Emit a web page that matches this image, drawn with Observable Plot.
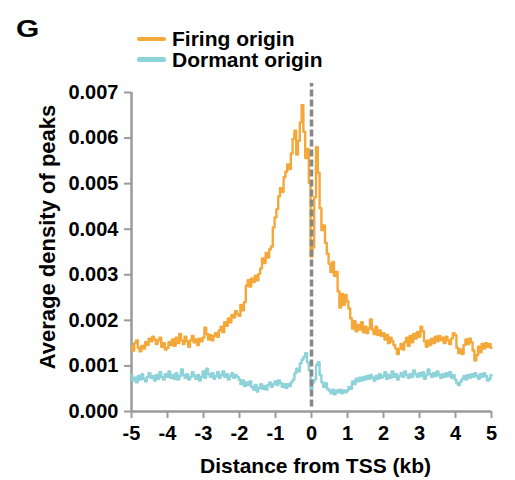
<!DOCTYPE html>
<html>
<head>
<meta charset="utf-8">
<script src="https://cdn.jsdelivr.net/npm/d3@7"></script>
<script src="https://cdn.jsdelivr.net/npm/@observablehq/plot@0.6"></script>
<style>
  html, body { margin: 0; padding: 0; background: #fff; }
  body { width: 515px; height: 480px; overflow: hidden; font-family: "Liberation Sans", Arial, Helvetica, sans-serif; font-weight: bold; color: #000; }
  #page { position: relative; width: 515px; height: 480px; }
  #head { position: relative; width: 515px; height: 80px; }
  .panel { position: absolute; left: 16px; top: 17.5px; font-size: 23px; line-height: 23px; transform: scaleX(1.3); transform-origin: 0 0; }
  .sw { position: absolute; left: 137px; width: 29px; height: 4.5px; border-radius: 2px; }
  .lab { position: absolute; left: 172px; font-size: 21px; line-height: 21px; white-space: nowrap; }
  #ylab { position: absolute; left: 48px; top: 237px; font-size: 22px; line-height: 22px; white-space: nowrap; transform: translate(-50%, -50%) rotate(-90deg); }
</style>
</head>
<body>
<div id="page">
<div id="head">
  <div class="panel">G</div>
  <div class="sw" id="sw0" style="top:36.5px"></div>
  <div class="lab" id="lab0" style="top:28px"></div>
  <div class="sw" id="sw1" style="top:57px"></div>
  <div class="lab" id="lab1" style="top:49px"></div>
</div>
<div id="chart"></div>
<div id="ylab"></div>
</div>
<script>
const seriesNames = ["Firing origin", "Dormant origin"];
const seriesColors = ["#F5A83A", "#8ED2DA"];
const xTicks = [-5, -4, -3, -2, -1, 0, 1, 2, 3, 4, 5];
const yTicks = [0, 0.001, 0.002, 0.003, 0.004, 0.005, 0.006, 0.007];
const xLabel = "Distance from TSS (kb)";
const yLabel = "Average density of peaks";

// bins every 0.05 kb from -5 to 5 kb
const distanceKb = d3.range(201).map(i => Math.round((-5 + i * 0.05) * 100) / 100);

const firing = [
0.00142,0.00134,0.00150,0.00156,0.00140,0.00132,0.00144,0.00138,0.00152,0.00146,0.00160,0.00154,0.00164,0.00158,0.00148,0.00156,0.00162,0.00142,0.00150,0.00136,
0.00140,0.00152,0.00146,0.00158,0.00144,0.00162,0.00150,0.00170,0.00156,0.00148,0.00164,0.00154,0.00142,0.00156,0.00166,0.00152,0.00158,0.00146,0.00160,0.00154,
0.00162,0.00184,0.00170,0.00158,0.00168,0.00156,0.00166,0.00172,0.00164,0.00178,0.00186,0.00174,0.00196,0.00188,0.00204,0.00196,0.00212,0.00206,0.00220,0.00214,
0.00210,0.00234,0.00222,0.00240,0.00276,0.00288,0.00274,0.00292,0.00284,0.00298,0.00288,0.00302,0.00314,0.00336,0.00326,0.00348,0.00338,0.00356,0.00362,0.00404,
0.00426,0.00444,0.00472,0.00490,0.00482,0.00514,0.00526,0.00542,0.00532,0.00566,0.00598,0.00616,0.00564,0.00594,0.00634,0.00672,0.00614,0.00556,0.00576,0.00502,
0.00340,0.00360,0.00470,0.00580,0.00524,0.00446,0.00398,0.00408,0.00370,0.00346,0.00324,0.00306,0.00328,0.00298,0.00306,0.00264,0.00228,0.00258,0.00234,0.00256,
0.00242,0.00226,0.00204,0.00182,0.00198,0.00176,0.00190,0.00180,0.00196,0.00174,0.00186,0.00172,0.00182,0.00202,0.00180,0.00170,0.00186,0.00168,0.00178,0.00166,
0.00172,0.00158,0.00168,0.00150,0.00162,0.00154,0.00146,0.00138,0.00126,0.00138,0.00148,0.00136,0.00152,0.00162,0.00144,0.00166,0.00152,0.00170,0.00160,0.00174,
0.00164,0.00186,0.00176,0.00154,0.00142,0.00156,0.00146,0.00160,0.00150,0.00164,0.00154,0.00166,0.00156,0.00162,0.00150,0.00164,0.00156,0.00148,0.00160,0.00172,
0.00168,0.00140,0.00128,0.00136,0.00126,0.00146,0.00158,0.00148,0.00160,0.00152,0.00134,0.00112,0.00124,0.00142,0.00130,0.00148,0.00138,0.00150,0.00142,0.00148,0.00140
];

const dormant = [
0.00080,0.00068,0.00074,0.00064,0.00078,0.00070,0.00082,0.00072,0.00066,0.00076,0.00084,0.00074,0.00078,0.00068,0.00080,0.00072,0.00086,0.00076,0.00070,0.00082,
0.00076,0.00088,0.00074,0.00080,0.00072,0.00084,0.00070,0.00078,0.00092,0.00080,0.00074,0.00082,0.00070,0.00076,0.00086,0.00078,0.00072,0.00080,0.00068,0.00076,
0.00088,0.00074,0.00094,0.00082,0.00076,0.00084,0.00072,0.00078,0.00086,0.00074,0.00080,0.00088,0.00076,0.00082,0.00070,0.00078,0.00084,0.00074,0.00080,0.00076,
0.00070,0.00060,0.00068,0.00056,0.00064,0.00058,0.00066,0.00054,0.00048,0.00058,0.00044,0.00052,0.00060,0.00050,0.00056,0.00048,0.00058,0.00064,0.00054,0.00060,
0.00066,0.00058,0.00068,0.00062,0.00054,0.00060,0.00052,0.00060,0.00056,0.00064,0.00070,0.00084,0.00094,0.00088,0.00106,0.00114,0.00120,0.00128,0.00108,0.00090,
0.00050,0.00064,0.00070,0.00102,0.00108,0.00080,0.00064,0.00054,0.00062,0.00050,0.00046,0.00040,0.00048,0.00038,0.00046,0.00042,0.00048,0.00040,0.00046,0.00042,
0.00046,0.00054,0.00050,0.00066,0.00060,0.00072,0.00066,0.00074,0.00068,0.00076,0.00070,0.00078,0.00072,0.00080,0.00074,0.00068,0.00078,0.00072,0.00082,0.00074,
0.00078,0.00086,0.00072,0.00080,0.00074,0.00088,0.00076,0.00082,0.00070,0.00078,0.00084,0.00076,0.00088,0.00080,0.00074,0.00082,0.00076,0.00090,0.00082,0.00076,
0.00084,0.00078,0.00086,0.00072,0.00080,0.00092,0.00082,0.00076,0.00084,0.00078,0.00088,0.00080,0.00074,0.00082,0.00076,0.00084,0.00078,0.00086,0.00074,0.00080,
0.00070,0.00062,0.00058,0.00066,0.00072,0.00078,0.00070,0.00080,0.00074,0.00082,0.00076,0.00084,0.00078,0.00072,0.00082,0.00076,0.00084,0.00078,0.00068,0.00072,0.00080
];

// legend and y title
document.getElementById("sw0").style.background = seriesColors[0];
document.getElementById("sw1").style.background = seriesColors[1];
document.getElementById("lab0").textContent = seriesNames[0];
document.getElementById("lab1").textContent = seriesNames[1];
document.getElementById("ylab").textContent = yLabel;

const firingData = distanceKb.map((x, i) => ({x, y: firing[i]}));
const dormantData = distanceKb.map((x, i) => ({x, y: dormant[i]}));

const axisGrey = "#9a9a9a";

const chart = Plot.plot({
  width: 515,
  height: 400,
  marginTop: 12,
  marginLeft: 131,
  marginRight: 24,
  marginBottom: 69,
  x: {domain: [-5, 5]},
  y: {domain: [0, 0.007]},
  style: {fontFamily: '"Liberation Sans", Arial, Helvetica, sans-serif', fontSize: "20px", fontWeight: "bold", color: "#000", background: "#fff", overflow: "visible"},
  marks: [
    Plot.axisY({ticks: yTicks, tickSize: 7, tickPadding: 6, tickFormat: d3.format(".3f"), label: null, stroke: axisGrey, strokeWidth: 2, fill: "#000"}),
    Plot.axisX({ticks: xTicks, tickSize: 7, tickPadding: 7, tickFormat: d => `${d}`, label: null, stroke: axisGrey, strokeWidth: 2, fill: "#000"}),
    Plot.ruleX([xTicks[0]], {y1: yTicks[0], y2: yTicks[yTicks.length - 1], stroke: axisGrey, strokeWidth: 2.5}),
    Plot.ruleY([yTicks[0]], {x1: xTicks[0], x2: xTicks[xTicks.length - 1], stroke: axisGrey, strokeWidth: 2.5}),
    Plot.line(firingData, {x: "x", y: "y", curve: "step", stroke: seriesColors[0], strokeWidth: 2.4}),
    Plot.line(dormantData, {x: "x", y: "y", curve: "step", stroke: seriesColors[1], strokeWidth: 2.4}),
    Plot.ruleX([0], {y1: 0.0001, y2: 0.0072, stroke: "#888888", strokeWidth: 3.5, strokeDasharray: "7,3"}),
    Plot.text([xLabel], {frameAnchor: "bottom", dx: 4, dy: 61, fontSize: 21, fontWeight: "bold", fill: "#000"})
  ]
});
document.getElementById("chart").appendChild(chart);
</script>
</body>
</html>
